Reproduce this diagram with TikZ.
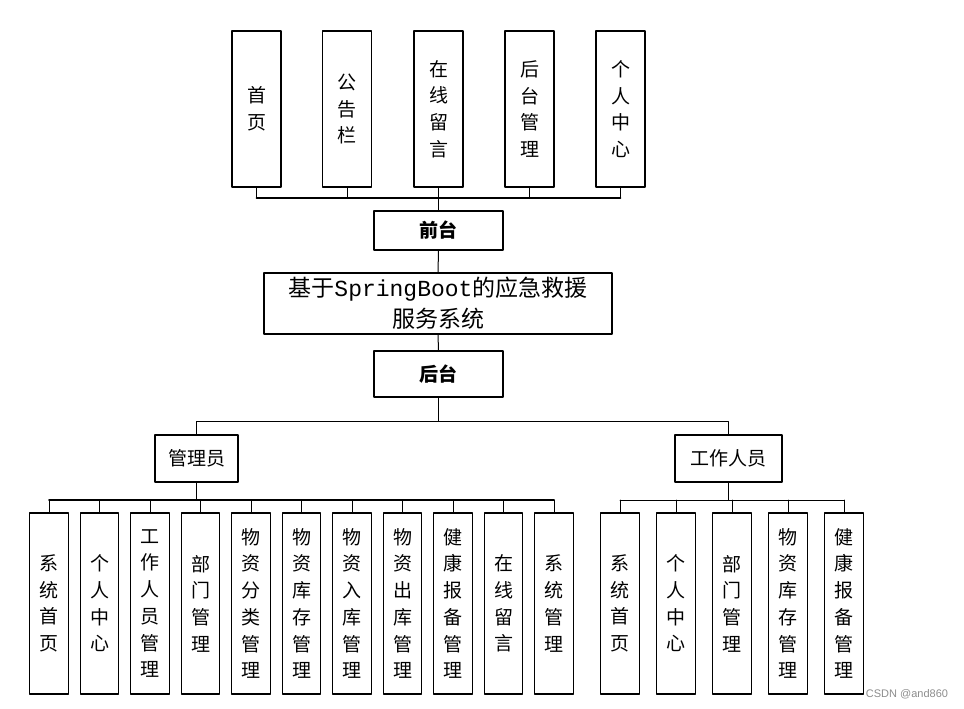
\documentclass[tikz,border=0pt]{standalone}
\usepackage{fontspec}
\newfontfamily\cjk{Noto Sans CJK SC}
\newfontfamily\monofam{Liberation Mono}
\newfontfamily\wmfont{Liberation Sans}

\begin{document}
\begin{tikzpicture}[x=1pt,y=-1pt,line cap=round,line join=round,
  box/.style={draw,fill=white,line width=1.2pt,inner sep=0pt,align=center,
    font={\cjk\fontsize{19}{26.7}\selectfont}},
  topbox/.style={box,minimum width=49pt,minimum height=156pt},
  leafbox/.style={box,minimum width=38.5pt,minimum height=181pt},
  rolebox/.style={box,minimum height=47pt},
  stub/.style={line width=1pt},
  trunk/.style={line width=1.6pt}]
\useasboundingbox (0,0) rectangle (964,709);
% top level: front pages
\foreach \i/\x/\txt in {1/256.5/{首\\页},2/347/{公\\告\\栏},3/438.5/{在\\线\\留\\言},
  4/529.5/{后\\台\\管\\理},5/620.5/{个\\人\\中\\心}}
  \node [topbox] (t\i) at (\x,109) {\txt};
\node [box,minimum width=129pt,minimum height=39pt,font={\cjk\bfseries\fontsize{19}{24}\selectfont}] (qt) at (438.5,230.5) {前台};
\node [box,minimum width=348pt,minimum height=61pt,font={\cjk\fontsize{23}{31}\selectfont}] (sys) at (438,303.5)
  {基于{\monofam\fontsize{23}{31}\selectfont SpringBoot}的应急救援\\服务系统};
\node [box,minimum width=129pt,minimum height=46pt,font={\cjk\bfseries\fontsize{19}{24}\selectfont}] (ht) at (438.5,374) {后台};
% roles
\node [rolebox,minimum width=83pt] (admin) at (196.5,458.5) {管理员};
\node [rolebox,minimum width=107pt] (staff) at (728.5,458.5) {工作人员};
% admin leaves
\foreach \i/\txt in {1/{系\\统\\首\\页},2/{个\\人\\中\\心},3/{工\\作\\人\\员\\管\\理},4/{部\\门\\管\\理},
  5/{物\\资\\分\\类\\管\\理},6/{物\\资\\库\\存\\管\\理},7/{物\\资\\入\\库\\管\\理},8/{物\\资\\出\\库\\管\\理},
  9/{健\\康\\报\\备\\管\\理},10/{在\\线\\留\\言},11/{系\\统\\管\\理}}
  \node [leafbox] (a\i) at ({49+50.5*(\i-1)},603.5) {\txt};
% staff leaves
\foreach \i/\txt in {1/{系\\统\\首\\页},2/{个\\人\\中\\心},3/{部\\门\\管\\理},
  4/{物\\资\\库\\存\\管\\理},5/{健\\康\\报\\备\\管\\理}}
  \node [leafbox] (s\i) at ({620+56*(\i-1)},603.5) {\txt};
% connectors
\coordinate (b1) at (438.5,198);
\draw [trunk] (t1.south |- b1) -- (t5.south |- b1);
\foreach \i in {1,...,5} \draw [stub] (t\i.south) -- (t\i.south |- b1);
\draw [trunk] (t3.south) -- (qt.north);
\draw [stub] (qt.south) -- (sys.north);
\draw [stub] (sys.south) -- (ht.north);
\coordinate (b2) at (438.5,421);
\draw [stub] (ht.south) -- (b2);
\draw [stub] (admin.north) |- (b2);
\draw [stub] (staff.north) |- (b2);
\coordinate (b3) at (196.5,500);
\draw [trunk] (admin.south) -- (b3);
\draw [trunk] (a1.north |- b3) -- (a11.north |- b3);
\foreach \i in {1,...,11} \draw [stub] (a\i.north) -- (a\i.north |- b3);
\coordinate (b4) at (728.5,500);
\draw [trunk] (staff.south) -- (b4);
\draw [stub] (s1.north |- b4) -- (s5.north |- b4);
\foreach \i in {1,...,5} \draw [stub] (s\i.north) -- (s\i.north |- b4);
\node [font=\wmfont\fontsize{11}{12}\selectfont,text=black!45] (wm) at (907,694) {CSDN @and860};
\end{tikzpicture}
\end{document}
